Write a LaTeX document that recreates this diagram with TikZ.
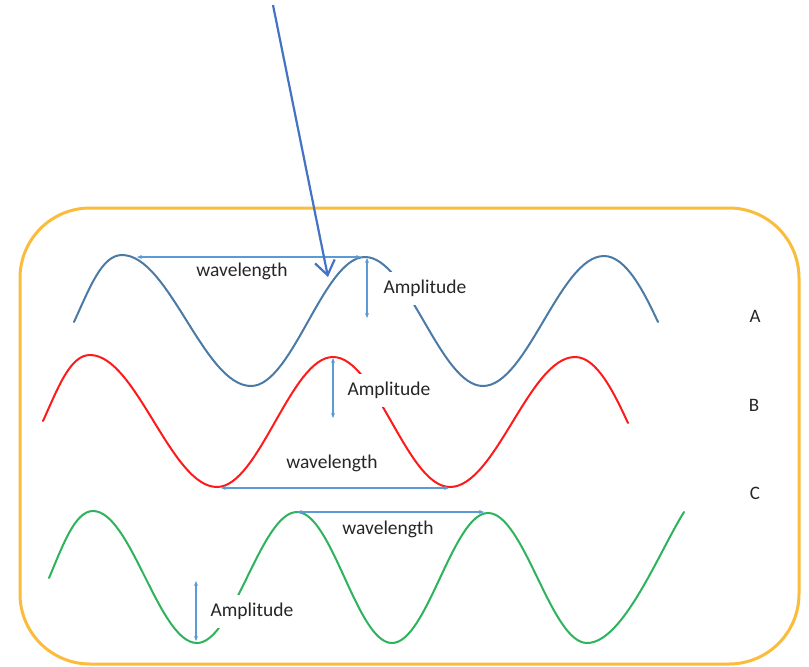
\documentclass[tikz,border=0pt]{standalone}
\usepackage{fontspec}
\setmainfont{Carlito}
\usetikzlibrary{arrows.meta}
\definecolor{waveA}{HTML}{4A7AA5}
\definecolor{waveB}{HTML}{FF1A1A}
\definecolor{waveC}{HTML}{2DB35C}
\definecolor{dimblue}{HTML}{5B9BD5}
\definecolor{ptrblue}{HTML}{4472C4}
\definecolor{frameorange}{HTML}{FBBC3C}
\begin{document}
\begin{tikzpicture}[x=1pt,y=-1pt,
  wave/.style={line width=2pt, line cap=round},
  dim/.style={dimblue, line width=1.1pt, {Stealth[length=5pt,width=4pt]}-{Stealth[length=5pt,width=4pt]}},
  lbl/.style={font=\fontsize{19.5}{23}\selectfont, text=black!85, inner sep=1pt},
  amp/.style={lbl, fill=white, minimum height=33pt, inner xsep=2pt},
  tag/.style={font=\fontsize{19}{22}\selectfont, text=black!85}]
\useasboundingbox (0,0) rectangle (809,667);

% frame
\draw[frameorange, line width=3pt, rounded corners=70pt] (20,208) rectangle (799,664);

% wave A
\draw[wave, waveA] (74,322) .. controls (90,287) and (102,255) .. (122,255)
  .. controls (169,255) and (204,386) .. (251,386)
  .. controls (292.5,386) and (323.5,257) .. (365,257)
  .. controls (408,257) and (440,386) .. (483,386)
  .. controls (527,386) and (560,256) .. (604,256)
  .. controls (626,256) and (644,292) .. (658,322);

% wave B
\draw[wave, waveB] (43,421) .. controls (58,388) and (70,355) .. (90,355)
  .. controls (136,355) and (171,487) .. (217,487)
  .. controls (259,487) and (291,357) .. (333,357)
  .. controls (376,357) and (407,487) .. (450,487)
  .. controls (495.5,487) and (529.5,357) .. (575,357)
  .. controls (597,357) and (614,393) .. (628,423);

% wave C
\draw[wave, waveC] (49,578) .. controls (63,545) and (75,511) .. (93,511)
  .. controls (131,511) and (159,643) .. (197,643)
  .. controls (233,643) and (261,512) .. (297,512)
  .. controls (332,512) and (357,643) .. (392,643)
  .. controls (427,643) and (453,513) .. (488,513)
  .. controls (524,513) and (551,643) .. (587,643)
  .. controls (623,643) and (659,552) .. (684,512);

% dimension end points
\coordinate (wlA1) at (137,257);
\coordinate (wlA2) at (361,257);
\coordinate (amA1) at (367,258);
\coordinate (amA2) at (367,318);
\coordinate (amB1) at (333,358);
\coordinate (amB2) at (333,418);
\coordinate (wlB1) at (221,488);
\coordinate (wlB2) at (449,488);
\coordinate (wlC1) at (297,512);
\coordinate (wlC2) at (484,512);
\coordinate (amC1) at (196,581);
\coordinate (amC2) at (196,641);

\draw[dim] (wlA1) -- (wlA2);
\draw[dim] (amA1) -- (amA2);
\draw[dim] (amB1) -- (amB2);
\draw[dim] (wlB1) -- (wlB2);
\draw[dim] (wlC1) -- (wlC2);
\draw[dim] (amC1) -- (amC2);

% labels
\node[lbl] (wA) at (242,271) {wavelength};
\node[amp] (aA) at (425,288) {Amplitude};
\node[amp] (aB) at (389,390) {Amplitude};
\node[lbl] (wB) at (332,463) {wavelength};
\node[lbl] (wC) at (388,529) {wavelength};
\node[amp] (aC) at (252,611) {Amplitude};

\node[tag] (tA) at (755,316) {A};
\node[tag] (tB) at (754,405) {B};
\node[tag] (tC) at (755,493) {C};

% pointer arrow
\coordinate (ptrS) at (273,5);
\coordinate (ptrE) at (328,277);
\draw[ptrblue, line width=2.2pt, -{Straight Barb[length=14pt,width=20pt,line width=2.2pt]}] (ptrS) -- (ptrE);
\end{tikzpicture}
\end{document}
